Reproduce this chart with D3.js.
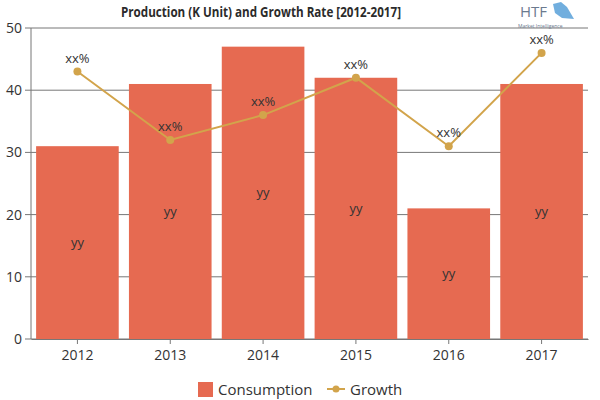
<!DOCTYPE html>
<html>
<head>
<meta charset="utf-8">
<script src="https://cdn.jsdelivr.net/npm/d3@7"></script>
<style>
  body { margin: 0; background: #fff; }
  text { font-family: "Open Sans", "Noto Sans", sans-serif; fill: #333; }
</style>
</head>
<body>
<div id="chart"></div>
<script>
// data
const years = ["2012", "2013", "2014", "2015", "2016", "2017"];
const consumption = [31, 41, 47, 42, 21, 41];
const growth = [43, 32, 36, 42, 31, 46];
const yTicks = [0, 10, 20, 30, 40, 50];

const width = 600, height = 400;
const margin = {top: 28, right: 12, bottom: 61, left: 31};
const innerW = width - margin.left - margin.right,
    innerH = height - margin.top - margin.bottom;

const svg = d3.select("#chart")
  .append("svg")
    .attr("width", width)
    .attr("height", height);

const g = svg.append("g")
    .attr("transform", `translate(${margin.left},${margin.top})`);

const x = d3.scaleBand()
  .domain(years)
  .range([0, innerW])
  .paddingInner(0.11)
  .paddingOuter(0.055);

const y = d3.scaleLinear()
  .domain([0, 50])
  .range([innerH, 0]);

// gridlines
g.append("g")
  .selectAll("line")
  .data(yTicks)
  .join("line")
    .attr("x1", -6)
    .attr("x2", innerW)
    .attr("y1", d => y(d))
    .attr("y2", d => y(d))
    .attr("stroke", "#777")
    .attr("stroke-width", 1);

// y axis labels + axis line
g.append("line")
  .attr("x1", 0).attr("x2", 0)
  .attr("y1", 0).attr("y2", innerH)
  .attr("stroke", "#777");

g.append("g")
  .selectAll("text")
  .data(yTicks)
  .join("text")
    .attr("x", -9)
    .attr("y", d => y(d))
    .attr("dy", "0.35em")
    .attr("text-anchor", "end")
    .attr("font-size", 14)
    .text(d => d);

// bars
g.append("g")
  .selectAll("rect")
  .data(years)
  .join("rect")
    .attr("x", d => x(d))
    .attr("y", (d, i) => y(consumption[i]))
    .attr("width", x.bandwidth())
    .attr("height", (d, i) => innerH - y(consumption[i]))
    .attr("fill", "#E66A51");

// bar labels
g.append("g")
  .selectAll("text")
  .data(years)
  .join("text")
    .attr("x", d => x(d) + x.bandwidth() / 2)
    .attr("y", (d, i) => (y(consumption[i]) + innerH) / 2)
    .attr("dy", "0.35em")
    .attr("text-anchor", "middle")
    .attr("font-size", 13)
    .text("yy");

// x axis
const xAxis = g.append("g")
  .attr("transform", `translate(0,${innerH})`)
  .call(d3.axisBottom(x).tickSizeInner(5).tickSizeOuter(0));
xAxis.select(".domain").attr("stroke", "#777");
xAxis.selectAll(".tick line").attr("stroke", "#777");
xAxis.selectAll(".tick text")
  .attr("font-size", 14)
  .attr("font-family", "'Open Sans', sans-serif")
  .attr("fill", "#333")
  .attr("dy", "0.95em");

// growth line
const cx = d => x(d) + x.bandwidth() / 2;
g.append("path")
  .datum(years)
  .attr("fill", "none")
  .attr("stroke", "#D2A44B")
  .attr("stroke-width", 2)
  .attr("d", d3.line()
    .x(d => cx(d))
    .y((d, i) => y(growth[i])));

g.append("g")
  .selectAll("circle")
  .data(years)
  .join("circle")
    .attr("cx", d => cx(d))
    .attr("cy", (d, i) => y(growth[i]))
    .attr("r", 4)
    .attr("fill", "#D2A44B");

g.append("g")
  .selectAll("text")
  .data(years)
  .join("text")
    .attr("x", d => cx(d))
    .attr("y", (d, i) => y(growth[i]) - 9)
    .attr("text-anchor", "middle")
    .attr("font-size", 13)
    .text("xx%");

// title
svg.append("text")
  .attr("x", 261)
  .attr("y", 17)
  .attr("text-anchor", "middle")
  .attr("font-family", "'DejaVu Sans Condensed', 'DejaVu Sans', sans-serif")
  .attr("font-weight", "bold")
  .attr("font-size", 15)
  .attr("textLength", 280)
  .attr("lengthAdjust", "spacingAndGlyphs")
  .style("fill", "#2b2b2b")
  .text("Production (K Unit) and Growth Rate [2012-2017]");

// logo
svg.append("text")
  .attr("x", 520)
  .attr("y", 17)
  .attr("font-family", "'Liberation Serif', serif")
  .attr("font-size", 15)
  .style("fill", "#6b7a8f")
  .text("HTF");
svg.append("path")
  .attr("d", "M553,4 L561,2 L567,7 L574,19 L562,18 L555,13 Z")
  .attr("fill", "#4d9ad6")
  .attr("opacity", 0.8);
svg.append("text")
  .attr("x", 518)
  .attr("y", 28)
  .attr("font-size", 5)
  .style("fill", "#6b7a8f")
  .text("Market Intelligence");

// legend
const legend = svg.append("g");
legend.append("rect")
  .attr("x", 198).attr("y", 382)
  .attr("width", 15).attr("height", 15)
  .attr("fill", "#E66A51");
legend.append("text")
  .attr("x", 218).attr("y", 395)
  .attr("font-size", 15)
  .text("Consumption");
legend.append("line")
  .attr("x1", 327).attr("x2", 345)
  .attr("y1", 389).attr("y2", 389)
  .attr("stroke", "#D2A44B").attr("stroke-width", 2);
legend.append("circle")
  .attr("cx", 336).attr("cy", 389).attr("r", 3.5)
  .attr("fill", "#D2A44B");
legend.append("text")
  .attr("x", 350).attr("y", 395)
  .attr("font-size", 15)
  .text("Growth");
</script>
</body>
</html>
